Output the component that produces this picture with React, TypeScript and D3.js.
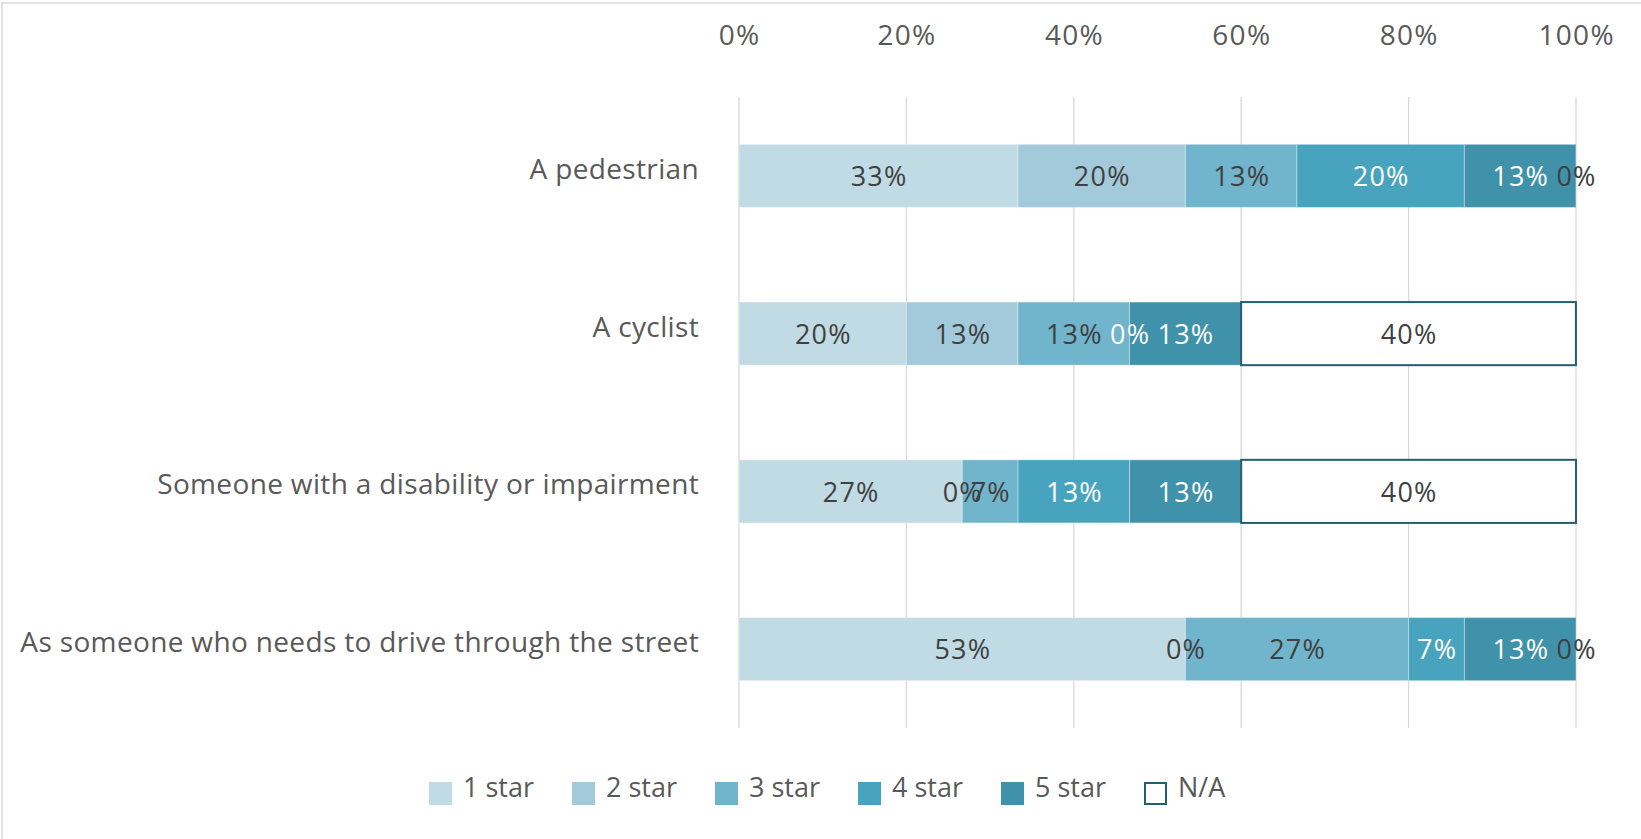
import React from "react";
import * as d3 from "d3";

const categories = [
  "A pedestrian",
  "A cyclist",
  "Someone with a disability or impairment",
  "As someone who needs to drive through the street",
];
const seriesNames = ["1 star", "2 star", "3 star", "4 star", "5 star", "N/A"];
const oneStar = [0.3333, 0.2, 0.2667, 0.5333];
const twoStar = [0.2, 0.1333, 0, 0];
const threeStar = [0.1333, 0.1333, 0.0667, 0.2667];
const fourStar = [0.2, 0, 0.1333, 0.0667];
const fiveStar = [0.1333, 0.1333, 0.1333, 0.1333];
const notApplicable = [0, 0.4, 0.4, 0];
const tickValues = [0, 0.2, 0.4, 0.6, 0.8, 1];

const seriesValues = [oneStar, twoStar, threeStar, fourStar, fiveStar, notApplicable];
const fills = ["#C1DBE4", "#A2CADA", "#71B5CC", "#48A4BE", "#4091AA", "#FFFFFF"];
const labelColors = ["#404040", "#404040", "#404040", "#FFFFFF", "#FFFFFF", "#404040"];
const NA_STROKE = "#245F6E";
const FONT = "'Open Sans', 'Noto Sans', sans-serif";

export default function App() {
  const W = 1641;
  const H = 839;
  const x = d3.scaleLinear().domain([0, 1]).range([739, 1576]);
  const y = d3
    .scaleBand<string>()
    .domain(categories)
    .range([97, 728])
    .paddingInner(0.6)
    .paddingOuter(0.3);
  const legendX = d3.scalePoint<string>().domain(seriesNames).range([429, 1144]);

  const rows = categories.map((c, i) => {
    const obj: Record<string, number | string> = { cat: c };
    seriesNames.forEach((s, j) => (obj[s] = seriesValues[j][i]));
    return obj;
  });
  const stack = d3.stack<Record<string, number | string>>().keys(seriesNames)(rows as any);

  const fmt = (v: number) => `${Math.round(v * 100)}%`;
  const dataLS = 1.2;
  const axisLS = 1.3;

  return (
    <svg
      width={W}
      height={H}
      style={{ position: "absolute", left: 0, top: 0, background: "#fff" }}
      fontFamily={FONT}
    >
      <rect x={2} y={3} width={W + 10} height={H + 10} fill="#fff" stroke="#D9D9D9" strokeWidth={1.5} />
      {/* gridlines */}
      {tickValues.map((t) => (
        <line key={t} x1={x(t)} x2={x(t)} y1={97} y2={728} stroke="#D9D9D9" strokeWidth={1.3} />
      ))}
      {/* axis labels */}
      {tickValues.map((t) => (
        <text
          key={"t" + t}
          x={x(t) + axisLS / 2}
          y={45}
          textAnchor="middle"
          fontSize={28}
          letterSpacing={axisLS}
          fill="#595959"
        >
          {`${Math.round(t * 100)}%`}
        </text>
      ))}
      {/* category labels */}
      {categories.map((c) => (
        <text
          key={c}
          x={699}
          y={(y(c) as number) + y.bandwidth() / 2 + 3}
          textAnchor="end"
          fontSize={28}
          letterSpacing={0.35}
          fill="#595959"
        >
          {c}
        </text>
      ))}
      {/* bars */}
      {stack.map((layer, si) =>
        layer.map((d, i) => {
          const c = categories[i];
          const x0 = x(d[0]);
          const x1 = x(d[1]);
          const isNA = seriesNames[si] === "N/A";
          if (x1 - x0 <= 0) return null;
          return (
            <rect
              key={`${si}-${i}`}
              x={x0}
              y={y(c)}
              width={x1 - x0}
              height={y.bandwidth()}
              fill={fills[si]}
              stroke={isNA ? NA_STROKE : "rgba(255,255,255,0.35)"}
              strokeWidth={isNA ? 2 : 1}
            />
          );
        })
      )}
      {/* data labels */}
      {stack.map((layer, si) =>
        layer.map((d, i) => {
          const c = categories[i];
          const v = d[1] - d[0];
          return (
            <text
              key={`l${si}-${i}`}
              x={x((d[0] + d[1]) / 2) + dataLS / 2}
              y={(y(c) as number) + y.bandwidth() / 2 + 3}
              textAnchor="middle"
              dominantBaseline="middle"
              fontSize={27}
              letterSpacing={dataLS}
              fill={labelColors[si]}
            >
              {fmt(v)}
            </text>
          );
        })
      )}
      {/* legend */}
      {seriesNames.map((s, si) => {
        const lx = legendX(s) as number;
        const isNA = s === "N/A";
        return (
          <g key={"lg" + s}>
            <rect
              x={isNA ? lx + 1 : lx}
              y={isNA ? 783 : 782}
              width={isNA ? 21 : 23}
              height={isNA ? 21 : 23}
              fill={fills[si]}
              stroke={isNA ? NA_STROKE : "none"}
              strokeWidth={isNA ? 2 : 0}
            />
            <text x={lx + 34} y={797} fontSize={27} fill="#595959">
              {s}
            </text>
          </g>
        );
      })}
    </svg>
  );
}
